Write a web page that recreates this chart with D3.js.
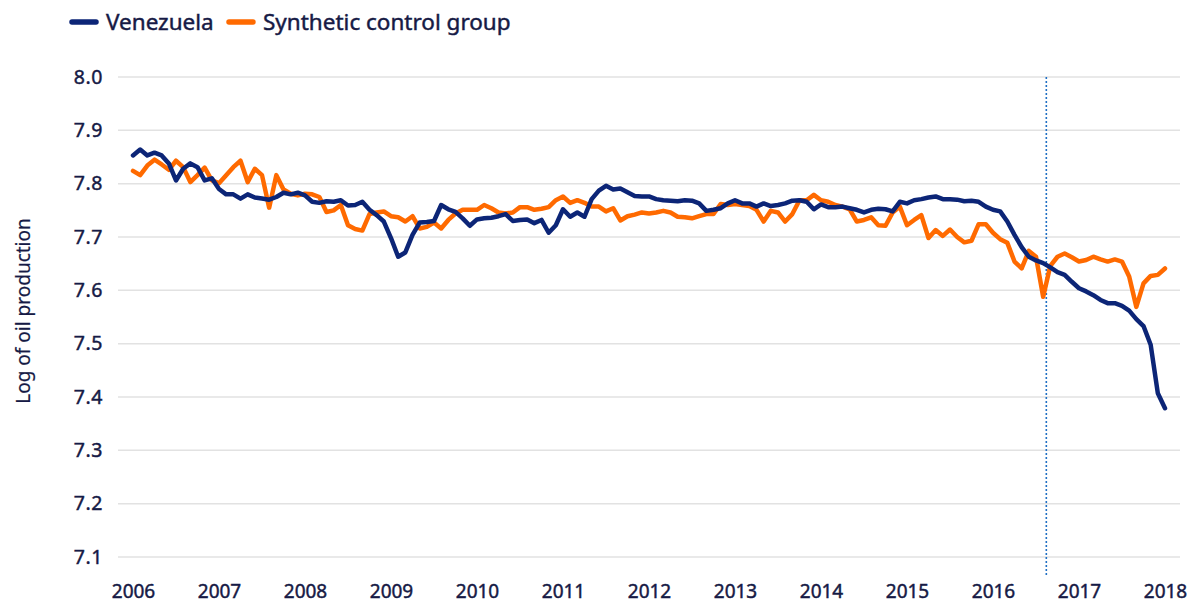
<!DOCTYPE html>
<meta charset="utf-8">
<script src="https://d3js.org/d3.v7.min.js"></script>
<style>
body { margin: 0; background: #fff; }
text { font-family: "Noto Sans", sans-serif; fill: #161a45; stroke: #161a45; stroke-width: 0.45px; }
</style>
<body></body>
<script>

// monthly values, Jan 2006 .. Jan 2018
var startYear = 2006;
var venezuela = [
  7.853, 7.864, 7.853, 7.858, 7.853, 7.838, 7.806, 7.828, 7.838, 7.831, 7.806, 7.810,
  7.790, 7.780, 7.780, 7.772, 7.780, 7.774, 7.772, 7.770, 7.775, 7.783, 7.780, 7.783,
  7.778, 7.766, 7.764, 7.767, 7.766, 7.769, 7.759, 7.760, 7.766, 7.751, 7.741, 7.729,
  7.698, 7.663, 7.671, 7.704, 7.727, 7.728, 7.730, 7.760, 7.752, 7.747, 7.735, 7.721,
  7.733, 7.735, 7.736, 7.739, 7.743, 7.730, 7.732, 7.733, 7.726, 7.732, 7.708, 7.722,
  7.752, 7.738, 7.746, 7.738, 7.771, 7.787, 7.796, 7.789, 7.791, 7.784, 7.777, 7.776,
  7.776, 7.771, 7.769, 7.768, 7.767, 7.769, 7.768, 7.763, 7.749, 7.751, 7.754, 7.763,
  7.769, 7.763, 7.763, 7.757, 7.763, 7.758, 7.760, 7.763, 7.768, 7.769, 7.766, 7.752,
  7.761, 7.756, 7.756, 7.757, 7.754, 7.751, 7.746, 7.751, 7.753, 7.752, 7.748, 7.766,
  7.763, 7.769, 7.771, 7.774, 7.776, 7.771, 7.771, 7.770, 7.767, 7.768, 7.766, 7.757,
  7.751, 7.748, 7.729, 7.704, 7.681, 7.663, 7.656, 7.651, 7.643, 7.634, 7.629, 7.616,
  7.604, 7.598, 7.591, 7.582, 7.576, 7.576, 7.571, 7.562, 7.546, 7.533, 7.498, 7.407,
  7.379
];
var synthetic = [
  7.824, 7.816, 7.834, 7.845, 7.836, 7.826, 7.843, 7.831, 7.803, 7.816, 7.830, 7.806,
  7.801, 7.816, 7.831, 7.843, 7.803, 7.828, 7.816, 7.755, 7.816, 7.789, 7.781, 7.778,
  7.781, 7.780, 7.775, 7.747, 7.750, 7.760, 7.722, 7.715, 7.712, 7.743, 7.746, 7.748,
  7.739, 7.737, 7.729, 7.739, 7.716, 7.719, 7.727, 7.716, 7.732, 7.744, 7.751, 7.751,
  7.751, 7.760, 7.754, 7.746, 7.744, 7.746, 7.756, 7.756, 7.751, 7.753, 7.756, 7.769,
  7.776, 7.764, 7.769, 7.764, 7.757, 7.757, 7.748, 7.754, 7.731, 7.739, 7.742, 7.746,
  7.744, 7.746, 7.749, 7.746, 7.738, 7.737, 7.735, 7.739, 7.743, 7.743, 7.762, 7.760,
  7.762, 7.760, 7.758, 7.751, 7.729, 7.749, 7.746, 7.729, 7.743, 7.769, 7.769, 7.779,
  7.769, 7.766, 7.760, 7.757, 7.752, 7.729, 7.732, 7.737, 7.722, 7.721, 7.746, 7.757,
  7.722, 7.732, 7.741, 7.698, 7.713, 7.702, 7.714, 7.700, 7.690, 7.693, 7.724, 7.724,
  7.708, 7.696, 7.689, 7.654, 7.641, 7.674, 7.663, 7.588, 7.646, 7.663, 7.669, 7.662,
  7.654, 7.657, 7.663, 7.658, 7.654, 7.658, 7.654, 7.626, 7.569, 7.613, 7.627, 7.629,
  7.641
];
var yTicks = [7.1, 7.2, 7.3, 7.4, 7.5, 7.6, 7.7, 7.8, 7.9, 8.0];
var xTicks = [2006, 2007, 2008, 2009, 2010, 2011, 2012, 2013, 2014, 2015, 2016, 2017, 2018];
var treatment = 2016.62;   // dotted marker, Aug 2016
var seriesNames = ["Venezuela", "Synthetic control group"];
var colors = ["#0c2577", "#ff6a00"];

var width = 1192, height = 607;

var svg = d3.select("body").append("svg")
    .attr("width", width)
    .attr("height", height);

var xScale = d3.scaleLinear().domain([2006, 2018]).range([133, 1165]);
var yScale = d3.scaleLinear().domain([7.1, 8.0]).range([557, 77]);

// gridlines
svg.append("g").selectAll("line")
    .data(yTicks)
  .enter().append("line")
    .attr("x1", 118).attr("x2", 1180)
    .attr("y1", function(d) { return yScale(d); })
    .attr("y2", function(d) { return yScale(d); })
    .style("stroke", "#e2e2e2")
    .style("stroke-width", 1.5);

// y axis labels
var yAxis = d3.axisLeft(yScale).tickValues(yTicks).tickFormat(d3.format(".1f")).tickSize(0).tickPadding(0);
svg.append("g")
    .attr("transform", "translate(103,0)")
    .call(yAxis)
    .call(function(g) { g.select(".domain").remove(); })
    .selectAll("text")
    .style("font-size", "19.5px")
    .style("letter-spacing", "0.6px")
    .style("font-family", "'Noto Sans', sans-serif")
    .attr("fill", "#161a45");

// x axis labels
var xAxis = d3.axisBottom(xScale).tickValues(xTicks).tickFormat(d3.format("d")).tickSize(0).tickPadding(0);
svg.append("g")
    .attr("transform", "translate(0,584)")
    .call(xAxis)
    .call(function(g) { g.select(".domain").remove(); })
    .selectAll("text")
    .style("font-size", "19px")
    .style("font-family", "'Noto Sans', sans-serif")
    .attr("fill", "#161a45");

// y title
svg.append("text")
    .attr("transform", "translate(30,311) rotate(-90)")
    .attr("text-anchor", "middle")
    .style("font-size", "19px")
    .style("stroke-width", "0.2px")
    .text("Log of oil production");

// treatment marker
svg.append("line")
    .attr("x1", xScale(treatment)).attr("x2", xScale(treatment))
    .attr("y1", 77).attr("y2", 576)
    .style("stroke", "#1f6fc4")
    .style("stroke-width", 1.6)
    .style("stroke-dasharray", "2,2");

var line = d3.line()
    .x(function(d, i) { return xScale(startYear + i / 12); })
    .y(function(d) { return yScale(d); });

[synthetic, venezuela].forEach(function(s, k) {
  svg.append("path")
      .datum(s)
      .attr("d", line)
      .style("fill", "none")
      .style("stroke", k == 0 ? colors[1] : colors[0])
      .style("stroke-width", 4.5)
      .style("stroke-linejoin", "round")
      .style("stroke-linecap", "round");
});

// legend
var legendX = [70, 227];
seriesNames.forEach(function(name, i) {
  svg.append("line")
      .attr("x1", legendX[i] + 2).attr("x2", legendX[i] + 26)
      .attr("y1", 22).attr("y2", 22)
      .style("stroke", colors[i])
      .style("stroke-width", 5.5)
      .style("stroke-linecap", "round");
  svg.append("text")
      .attr("x", legendX[i] + 36)
      .attr("y", 30)
      .style("font-size", "22.5px")
      .text(name);
});

</script>
